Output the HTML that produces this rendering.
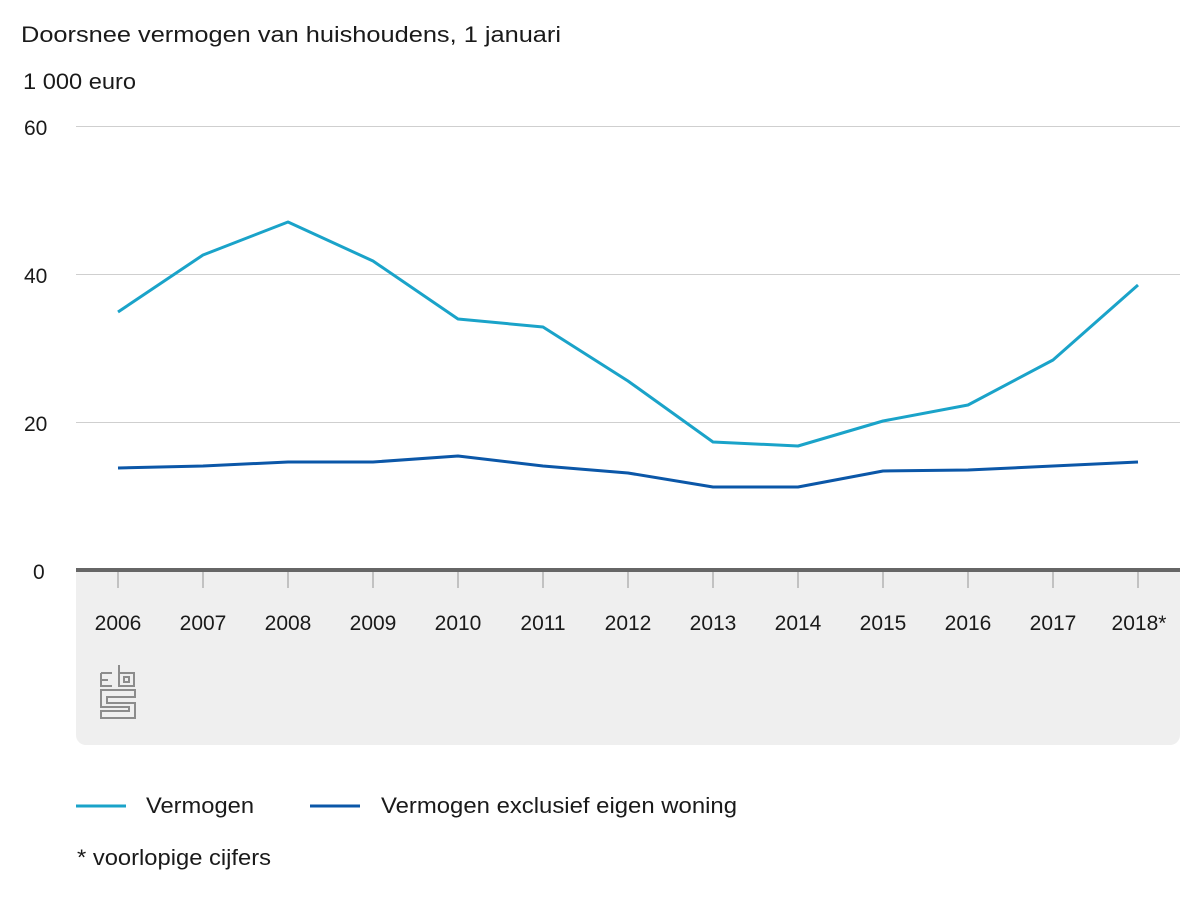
<!DOCTYPE html>
<html><head><meta charset="utf-8"><style>
html,body{margin:0;padding:0;background:#fff;}
svg text{font-family:"Liberation Sans",Arial,sans-serif;font-size:21px;fill:#1a1a1a;}
svg text.b{font-size:22px;}
</style></head><body>
<svg width="1200" height="900" viewBox="0 0 1200 900" xmlns="http://www.w3.org/2000/svg">
<text class="b" x="21" y="42" textLength="540" lengthAdjust="spacingAndGlyphs">Doorsnee vermogen van huishoudens, 1 januari</text>
<text class="b" x="23" y="89" textLength="113" lengthAdjust="spacingAndGlyphs">1 000 euro</text>
<path d="M76 570 H1180 V735 a10 10 0 0 1 -10 10 H86 a10 10 0 0 1 -10 -10 Z" fill="#efefef"/>
<g stroke="#cfcfcf" stroke-width="1">
<line x1="76" y1="126.5" x2="1180" y2="126.5"/>
<line x1="76" y1="274.5" x2="1180" y2="274.5"/>
<line x1="76" y1="422.5" x2="1180" y2="422.5"/>
</g>
<text x="24" y="135">60</text>
<text x="24" y="283">40</text>
<text x="24" y="431">20</text>
<text x="33" y="579">0</text>
<line x1="76" y1="570" x2="1180" y2="570" stroke="#666" stroke-width="4"/>
<g stroke="#c2c2c2" stroke-width="2">
<line x1="118" y1="572" x2="118" y2="588"/><line x1="203" y1="572" x2="203" y2="588"/><line x1="288" y1="572" x2="288" y2="588"/><line x1="373" y1="572" x2="373" y2="588"/><line x1="458" y1="572" x2="458" y2="588"/><line x1="543" y1="572" x2="543" y2="588"/><line x1="628" y1="572" x2="628" y2="588"/><line x1="713" y1="572" x2="713" y2="588"/><line x1="798" y1="572" x2="798" y2="588"/><line x1="883" y1="572" x2="883" y2="588"/><line x1="968" y1="572" x2="968" y2="588"/><line x1="1053" y1="572" x2="1053" y2="588"/><line x1="1138" y1="572" x2="1138" y2="588"/>
</g>
<g text-anchor="middle">
<text x="118" y="630">2006</text><text x="203" y="630">2007</text><text x="288" y="630">2008</text><text x="373" y="630">2009</text><text x="458" y="630">2010</text><text x="543" y="630">2011</text><text x="628" y="630">2012</text><text x="713" y="630">2013</text><text x="798" y="630">2014</text><text x="883" y="630">2015</text><text x="968" y="630">2016</text><text x="1053" y="630">2017</text><text x="1139" y="630">2018*</text>
</g>
<g fill="none" stroke="#8c8c8c" stroke-width="2">
<path d="M101 673 H112 M101 673 V686 H112 M101 680 H108"/>
<path d="M119 665 V686 H134 V673 H119 M124 677 H129 V682 H124 Z"/>
<path d="M101 690 H135 V697 H107 V703 H135 V718 H101 V711 H129 V707 H101 Z"/>
</g>
<polyline fill="none" stroke="#1aa3c9" stroke-width="3" stroke-linejoin="round" points="118,312 203,255 288,222 373,261 458,319 543,327 628,381 713,442 798,446 883,421 968,405 1053,360 1138,285"/>
<polyline fill="none" stroke="#0b57a8" stroke-width="3" stroke-linejoin="round" points="118,468 203,466 288,462 373,462 458,456 543,466 628,473 713,487 798,487 883,471 968,470 1053,466 1138,462"/>
<line x1="76" y1="806" x2="126" y2="806" stroke="#1aa3c9" stroke-width="3"/>
<text class="b" x="146" y="813" textLength="108" lengthAdjust="spacingAndGlyphs">Vermogen</text>
<line x1="310" y1="806" x2="360" y2="806" stroke="#0b57a8" stroke-width="3"/>
<text class="b" x="381" y="813" textLength="356" lengthAdjust="spacingAndGlyphs">Vermogen exclusief eigen woning</text>
<text class="b" x="77" y="865" textLength="194" lengthAdjust="spacingAndGlyphs">* voorlopige cijfers</text>
</svg>
</body></html>
